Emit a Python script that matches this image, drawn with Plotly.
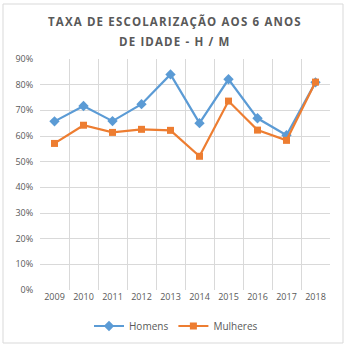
import plotly.graph_objects as go

anos = ["2009", "2010", "2011", "2012", "2013", "2014", "2015", "2016", "2017", "2018"]
homens = [0.657, 0.717, 0.658, 0.724, 0.840, 0.650, 0.821, 0.669, 0.603, 0.809]
mulheres = [0.571, 0.642, 0.614, 0.626, 0.622, 0.521, 0.736, 0.623, 0.583, 0.810]

titulo_linhas = ["TAXA DE ESCOLARIZAÇÃO AOS 6 ANOS", "DE IDADE - H / M"]

AZUL = "#5B9BD5"
LARANJA = "#ED7D31"
CINZA = "#595959"
GRADE = "#d9d9d9"
FONTE = "Open Sans"


def espacado(texto):
    # widen letter spacing with hair spaces between characters
    return "\u200a".join(texto)


fig = go.Figure()
fig.add_trace(go.Scatter(
    x=anos, y=homens, name="Homens", mode="lines+markers",
    line=dict(color=AZUL, width=2.2),
    marker=dict(symbol="diamond", size=8, color=AZUL),
))
fig.add_trace(go.Scatter(
    x=anos, y=mulheres, name="Mulheres", mode="lines+markers",
    line=dict(color=LARANJA, width=2.2),
    marker=dict(symbol="square", size=7, color=LARANJA),
))

L, R, T, B = 40, 18, 59, 58
W = H = 348
pw, ph = W - L - R, H - T - B


def px_x(x):
    return (x - L) / pw


def px_y(y):
    return (H - B - y) / ph


anotacoes = []
for linha, ypix in zip(titulo_linhas, [22, 42]):
    anotacoes.append(dict(
        text="<b>" + espacado(linha) + "</b>",
        xref="paper", yref="paper", x=px_x(174), y=px_y(ypix),
        xanchor="center", yanchor="middle", showarrow=False,
        font=dict(family=FONTE, size=11.5, color=CINZA),
    ))

fig.update_layout(
    width=W, height=H,
    margin=dict(l=L, r=R, t=T, b=B, autoexpand=False),
    paper_bgcolor="white", plot_bgcolor="white",
    font=dict(family=FONTE, color=CINZA, size=9),
    annotations=anotacoes,
    showlegend=True,
    legend=dict(
        orientation="h", x=px_x(176), xanchor="center",
        y=px_y(326), yanchor="middle",
        font=dict(family=FONTE, size=10, color=CINZA),
        itemwidth=30,
    ),
    xaxis=dict(
        type="category", tickson="boundaries",
        showgrid=True, gridcolor=GRADE, gridwidth=1,
        ticks="outside", ticklen=5, tickcolor="rgba(0,0,0,0)",
        tickangle=0,
        showline=False, zeroline=False,
        tickfont=dict(size=9, color=CINZA),
        range=[-0.5, 9.5],
    ),
    yaxis=dict(
        range=[0, 0.9], dtick=0.1, tickformat=".0%",
        showgrid=True, gridcolor=GRADE, gridwidth=1,
        zeroline=False, showline=False,
        ticks="outside", ticklen=4, tickcolor="rgba(0,0,0,0)",
        tickfont=dict(size=9, color=CINZA),
    ),
    shapes=[dict(
        type="rect", xref="paper", yref="paper",
        x0=px_x(3), x1=px_x(343), y0=px_y(343), y1=px_y(4),
        line=dict(color=GRADE, width=1), fillcolor="rgba(0,0,0,0)",
        layer="below",
    )],
)

fig.write_html("out.html")
